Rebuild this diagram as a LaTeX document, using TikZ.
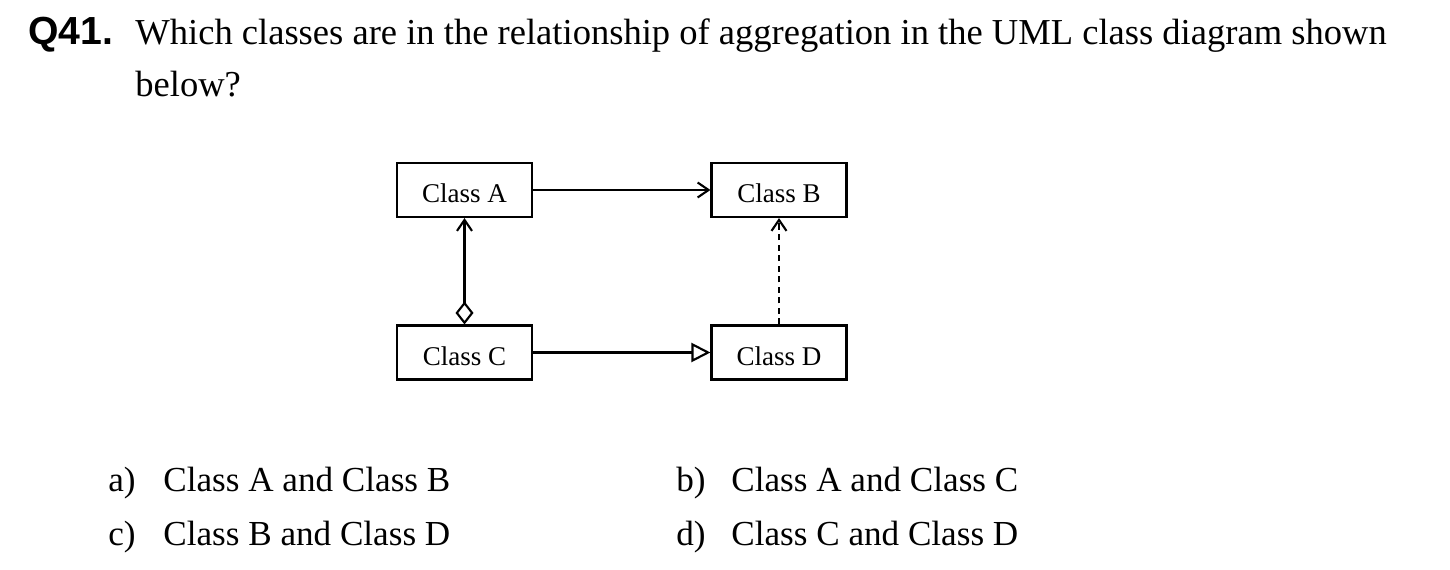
\documentclass[tikz,border=0pt]{standalone}
\usepackage{fontspec}
\setmainfont{Liberation Serif}
\newfontfamily\qfont{Liberation Sans}
\usetikzlibrary{arrows.meta, positioning}

\begin{document}
\begin{tikzpicture}[x=0.02cm, y=-0.02cm,
  txt/.style={anchor=base west, inner sep=0pt, font=\fontsize{20}{24}\selectfont},
  cls/.style={draw, line width=1.2pt, inner sep=0pt, minimum width=2.7cm, minimum height=1.08cm,
    text height=14.6pt, text depth=0pt, font=\fontsize{15.4}{18}\selectfont},
  conn/.style={line width=1.2pt},
  vtip/.style={-{Straight Barb[length=0.22cm, width=0.3cm, line width=1.2pt]}}]
\useasboundingbox (0,0) rectangle (1450,570);
% question
\node[txt, font=\qfont\bfseries\fontsize{22.3}{24}\selectfont] (qnum) at (28,45) {Q41.};
\node[txt, font=\fontsize{20.8}{24}\selectfont] (qline1) at (135,45) {Which classes are in the relationship of aggregation in the UML class diagram shown};
\node[txt, font=\fontsize{20.8}{24}\selectfont] (qline2) at (135,97) {below?};
% classes
\foreach \n/\x/\y in {A/464.5/190, B/779/190, C/464.5/352.5, D/779/352.5}
  \node[cls] (cls\n) at (\x,\y) {Class \n};
\draw[conn, vtip] (clsA) -- (clsB);
\draw[conn, {Diamond[open, length=0.46cm, width=0.36cm, line width=1.2pt]}-{Straight Barb[length=0.22cm, width=0.3cm, line width=1.2pt]}] (clsC) -- (clsA);
\draw[conn, vtip, dash pattern=on 3.5pt off 2.5pt] (clsD) -- (clsB);
\draw[conn, -{Triangle[open, length=0.38cm, width=0.38cm, line width=1.2pt]}] (clsC) -- (clsD);
% answers
\node[txt] (la) at (108,492) {a)};
\node[txt] (ansa) at (163,492) {Class A and Class B};
\node[txt] (lb) at (676,492) {b)};
\node[txt] (ansb) at (731,492) {Class A and Class C};
\node[txt] (lc) at (108,545) {c)};
\node[txt] (ansc) at (163,545) {Class B and Class D};
\node[txt] (ld) at (676,545) {d)};
\node[txt] (ansd) at (731,545) {Class C and Class D};
\end{tikzpicture}
\end{document}
